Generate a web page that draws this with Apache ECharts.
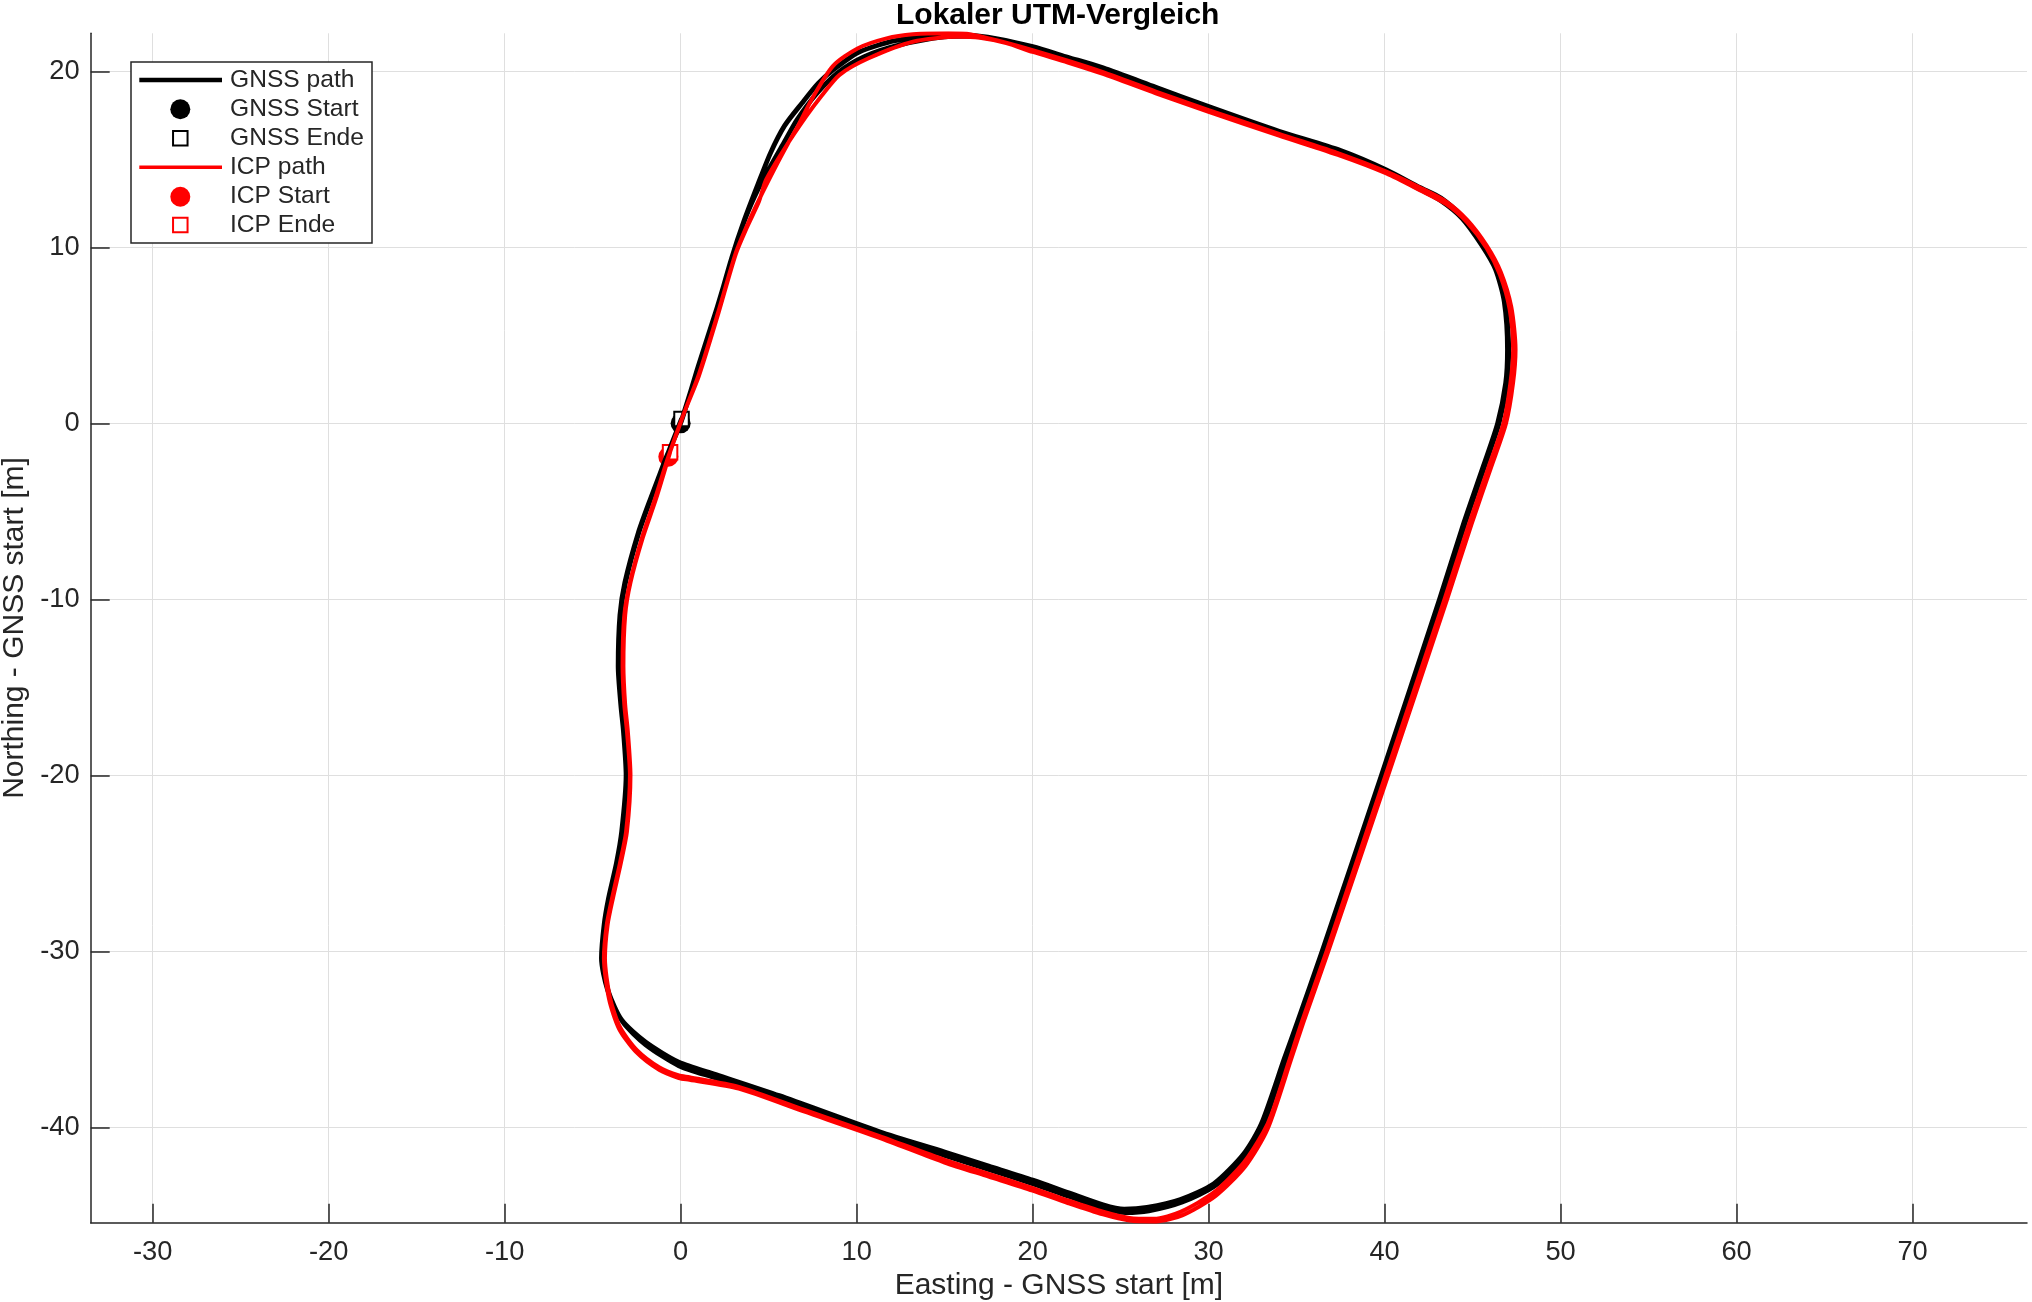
<!DOCTYPE html>
<html><head><meta charset="utf-8">
<script src="https://cdn.jsdelivr.net/npm/echarts@6/dist/echarts.min.js"></script>
<style>html,body{margin:0;padding:0;background:#fff}#c{width:2032px;height:1302px}</style>
</head><body><div id="c"></div>
<script>
const chartTitle = 'Lokaler UTM-Vergleich';
const xAxisName = 'Easting - GNSS start [m]';
const yAxisName = 'Northing - GNSS start [m]';
const xTicks = [-30, -20, -10, 0, 10, 20, 30, 40, 50, 60, 70];
const yTicks = [-40, -30, -20, -10, 0, 10, 20];
const legendNames = ['GNSS path', 'GNSS Start', 'GNSS Ende', 'ICP path', 'ICP Start', 'ICP Ende'];

const gnssLap1 = [[0,0],[1.0,3.2],[2.0,6.3],[2.9,9.4],[3.6,11.5],[4.4,13.6],[5.1,15.35],[5.9,16.9],[6.9,18.2],[7.8,19.3],[8.65,20.07],[10.17,21.11],[12.2,21.74],[15.0,22.06],[16.3,22.06],[18.0,21.85],[20.0,21.4],[22.0,20.8],[24.0,20.2],[27.0,19.1],[30.0,18.0],[34.0,16.6],[37.5,15.5],[40.1,14.4],[42.0,13.4],[43.2,12.8],[44.4,11.75],[45.5,10.3],[46.3,8.9],[46.85,7.0],[47.05,4.2],[46.95,2.3],[46.5,0.0],[45.7,-2.4],[44.6,-5.6],[43.2,-10.0],[39.9,-20.0],[36.5,-30.0],[35.1,-34.0],[34.4,-36.1],[33.1,-39.9],[32.1,-41.6],[30.4,-43.3],[28.5,-44.25],[26.6,-44.75],[25.3,-44.85],[24.0,-44.6],[22.0,-43.9],[20.0,-43.2],[17.5,-42.4],[15.0,-41.6],[11.3,-40.45],[5.6,-38.4],[2.0,-37.2],[-0.1,-36.5],[-2.0,-35.3],[-3.3,-34.0],[-4.1,-32.3],[-4.45,-30.4],[-4.3,-28.5],[-4.05,-27.0],[-3.6,-25.0],[-3.3,-23.2],[-3.03,-20.0],[-3.2,-17.5],[-3.35,-16.0],[-3.5,-13.8],[-3.41,-10.9],[-3.13,-9.05],[-2.37,-6.2],[-1.7,-4.3],[-0.85,-2.0],[0,0]];
const gnssLap2 = [[1.0,3.25],[2.0,6.35],[2.95,9.5],[3.7,11.7],[4.4,13.3],[5.1,14.6],[5.9,16.0],[6.62,17.26],[7.7,18.7],[8.9,19.9],[10.43,20.83],[12.45,21.5],[14.99,21.96],[16.5,22.0],[18.0,21.8],[20.06,21.35],[22.0,20.75],[24.0,20.15],[27.0,19.05],[30.0,17.95],[34.0,16.55],[37.5,15.4],[40.1,14.3],[42.0,13.3],[43.2,12.65],[44.4,11.65],[45.5,10.15],[46.3,8.75],[46.8,6.9],[46.98,4.2],[46.88,2.3],[46.42,0.0],[45.62,-2.4],[44.52,-5.6],[43.12,-10.0],[39.82,-20.0],[36.45,-30.0],[35.05,-34.0],[34.3,-36.1],[33.0,-39.8],[32.0,-41.5],[30.3,-43.2],[28.4,-44.1],[26.5,-44.55],[25.2,-44.65],[24.0,-44.4],[22.0,-43.7],[20.0,-43.0],[17.5,-42.2],[15.0,-41.4],[11.3,-40.25],[5.6,-38.2],[2.0,-37.0],[-0.1,-36.3],[-2.0,-35.15],[-3.35,-33.9],[-4.15,-32.2],[-4.5,-30.4],[-4.35,-28.5],[-4.1,-27.0],[-3.65,-25.0],[-3.35,-23.2],[-3.1,-20.0],[-3.25,-17.5],[-3.4,-16.0],[-3.55,-13.8],[-3.45,-10.9],[-3.17,-9.05],[-2.4,-6.2],[-1.72,-4.3],[-0.8,-1.9],[0.05,0.25]];

const icpLap1 = [[-0.7,-1.9],[0.2,0.6],[1.04,2.8],[2.1,6.2],[3.13,9.67],[3.8,11.3],[4.45,12.7],[5.4,14.59],[6.1,15.9],[6.72,17.0],[7.5,18.5],[8.65,20.3],[10.05,21.3],[11.7,21.87],[13.2,22.1],[15.2,22.16],[16.5,22.1],[18.0,21.75],[20.0,21.2],[22.0,20.6],[24.0,19.95],[27.0,18.85],[30.0,17.8],[34.0,16.45],[37.5,15.3],[40.1,14.3],[42.0,13.4],[43.5,12.6],[44.7,11.55],[45.8,10.1],[46.6,8.6],[47.2,6.6],[47.44,4.2],[47.3,2.3],[46.9,0.0],[46.05,-2.5],[44.95,-5.7],[43.55,-10.0],[40.2,-20.0],[36.8,-30.0],[35.4,-34.0],[34.7,-36.1],[33.35,-40.1],[32.1,-42.2],[30.4,-43.9],[28.5,-45.0],[27.0,-45.35],[25.5,-45.3],[24.0,-44.95],[22.0,-44.3],[20.0,-43.6],[17.5,-42.8],[15.0,-42.0],[11.3,-40.6],[7.0,-39.1],[3.3,-37.8],[0.5,-37.3],[-0.1,-37.2],[-1.2,-36.75],[-2.55,-35.7],[-3.5,-34.4],[-4.07,-32.7],[-4.36,-30.4],[-4.2,-28.5],[-3.9,-27.0],[-3.45,-25.0],[-3.1,-23.2],[-2.88,-20.0],[-3.05,-17.5],[-3.2,-16.0],[-3.3,-13.8],[-3.2,-10.9],[-2.88,-9.05],[-2.2,-6.5],[-1.46,-4.3],[-0.7,-1.9]];
const icpLap2 = [[0.2,0.6],[1.04,2.7],[2.1,6.1],[3.13,9.6],[3.8,11.2],[4.45,12.6],[4.85,13.83],[5.9,15.6],[7.12,17.42],[8.0,18.6],[9.03,19.8],[10.68,20.74],[13.2,21.68],[15.75,21.96],[17.0,21.9],[18.5,21.6],[20.0,21.1],[22.0,20.5],[24.0,19.85],[27.0,18.75],[30.0,17.7],[34.0,16.35],[37.5,15.2],[40.1,14.2],[42.0,13.25],[43.5,12.45],[44.7,11.4],[45.8,9.95],[46.55,8.45],[47.1,6.5],[47.3,4.2],[47.15,2.3],[46.75,0.0],[45.9,-2.5],[44.8,-5.7],[43.4,-10.0],[40.05,-20.0],[36.7,-30.0],[35.3,-34.0],[34.55,-36.3],[33.6,-39.2],[33.1,-40.3],[32.0,-42.0],[30.3,-43.7],[28.4,-44.8],[26.9,-45.2],[25.5,-45.15],[24.0,-44.8],[22.0,-44.15],[20.0,-43.45],[17.5,-42.65],[15.0,-41.85],[11.3,-40.5],[7.0,-39.0],[3.3,-37.7],[0.5,-37.15],[-0.1,-37.05],[-1.2,-36.6],[-2.5,-35.6],[-3.45,-34.3],[-4.02,-32.6],[-4.3,-30.4],[-4.15,-28.5],[-3.85,-27.0],[-3.4,-25.0],[-3.05,-23.2],[-2.85,-20.0],[-3.0,-17.5],[-3.15,-16.0],[-3.25,-13.8],[-3.15,-10.9],[-2.85,-9.05],[-2.15,-6.5],[-1.4,-4.3],[-0.6,-1.65]];

const gnssStart = [0, 0];
const gnssEnd = [0.05, 0.25];
const icpStart = [-0.7, -1.9];
const icpEnd = [-0.6, -1.65];

const FONT = '"Liberation Sans", Arial, Helvetica, sans-serif';
const AX = '#262626';
const BLACK = '#000000';
const RED = '#ff0000';

const chart = echarts.init(document.getElementById('c'), null, {renderer: 'canvas'});

// legend drawn as graphic elements (box, samples, texts)
const legendRows = [80, 109.3, 138.3, 167.3, 196.7, 225];
const legendKinds = ['line', 'circle', 'square', 'line', 'circle', 'square'];
const legendColors = [BLACK, BLACK, BLACK, RED, RED, RED];
const legendLineWidths = [4.5, 0, 0, 3.5, 0, 0];
const lg = [{type: 'rect', z: 10, shape: {x: 131, y: 62, width: 241, height: 181},
  style: {fill: '#fff', stroke: AX, lineWidth: 1.5}}];
legendNames.forEach((n, i) => {
  const y = legendRows[i], c = legendColors[i], k = legendKinds[i];
  if (k === 'line') {
    lg.push({type: 'line', z: 11, shape: {x1: 139.3, y1: y, x2: 222, y2: y},
      style: {stroke: c, lineWidth: legendLineWidths[i]}});
  } else if (k === 'circle') {
    lg.push({type: 'circle', z: 11, shape: {cx: 180.3, cy: y, r: 10}, style: {fill: c}});
  } else {
    lg.push({type: 'rect', z: 11, shape: {x: 180.3 - 7.25, y: y - 7.25, width: 14.5, height: 14.5},
      style: {fill: '#fff', stroke: c, lineWidth: 2}});
  }
  lg.push({type: 'text', z: 11, x: 230, y: y,
    style: {text: n, fill: AX, font: '24.6px ' + FONT, align: 'left', verticalAlign: 'middle'}});
});

const option = {
  animation: false,
  backgroundColor: '#fff',
  textStyle: {fontFamily: FONT},
  title: {text: chartTitle, left: 896, top: 1, padding: 0,
    textStyle: {fontSize: 30, fontWeight: 'bold', color: '#000', fontFamily: FONT}},
  grid: {left: 90.7, right: 5, top: 33.3, bottom: 79.3, containLabel: false, outerBoundsMode: 'none'},
  graphic: {elements: lg},
  xAxis: {
    type: 'value', min: -33.52, max: 76.5,
    name: xAxisName, nameLocation: 'middle', nameGap: 45.6,
    nameTextStyle: {fontSize: 30, color: AX, fontFamily: FONT},
    axisLine: {show: true, onZero: false, lineStyle: {color: AX, width: 1.5}},
    axisTick: {show: true, inside: true, length: 19, customValues: xTicks, lineStyle: {color: AX, width: 1.5}},
    axisLabel: {customValues: xTicks, margin: 16, fontSize: 27.3, color: AX, fontFamily: FONT},
    splitLine: {show: true, lineStyle: {color: '#dfdfdf', width: 1}}
  },
  yAxis: {
    type: 'value', min: -45.42, max: 22.16,
    name: yAxisName, nameLocation: 'middle', nameGap: 56,
    nameTextStyle: {fontSize: 30, color: AX, fontFamily: FONT},
    axisLine: {show: true, onZero: false, lineStyle: {color: AX, width: 1.5}},
    axisTick: {show: true, inside: true, length: 19, customValues: yTicks, lineStyle: {color: AX, width: 1.5}},
    axisLabel: {customValues: yTicks, margin: 11, fontSize: 27.3, color: AX, fontFamily: FONT},
    splitLine: {show: true, lineStyle: {color: '#dfdfdf', width: 1}}
  },
  series: [
    {name: 'GNSS path', type: 'line', data: gnssLap1.concat(gnssLap2), showSymbol: false, symbol: 'none', smooth: 0.25,
      lineStyle: {color: BLACK, width: 4.8, join: 'round', cap: 'round'}, itemStyle: {color: BLACK},
      emphasis: {disabled: true}, silent: true},
    {name: 'GNSS Start', type: 'scatter', data: [gnssStart], symbol: 'circle', symbolSize: 20,
      itemStyle: {color: BLACK, opacity: 1}, emphasis: {disabled: true}, silent: true},
    {name: 'GNSS Ende', type: 'scatter', data: [gnssEnd], symbol: 'rect', symbolSize: 14.5,
      itemStyle: {color: '#fff', borderColor: BLACK, borderWidth: 2, opacity: 1}, emphasis: {disabled: true}, silent: true},
    {name: 'ICP path', type: 'line', data: icpLap1.concat(icpLap2), showSymbol: false, symbol: 'none', smooth: 0.25,
      lineStyle: {color: RED, width: 4, join: 'round', cap: 'round'}, itemStyle: {color: RED},
      emphasis: {disabled: true}, silent: true},
    {name: 'ICP Start', type: 'scatter', data: [icpStart], symbol: 'circle', symbolSize: 20,
      itemStyle: {color: RED, opacity: 1}, emphasis: {disabled: true}, silent: true},
    {name: 'ICP Ende', type: 'scatter', data: [icpEnd], symbol: 'rect', symbolSize: 14.5,
      itemStyle: {color: '#fff', borderColor: RED, borderWidth: 2, opacity: 1}, emphasis: {disabled: true}, silent: true}
  ]
};
chart.setOption(option);
</script>
</body></html>
